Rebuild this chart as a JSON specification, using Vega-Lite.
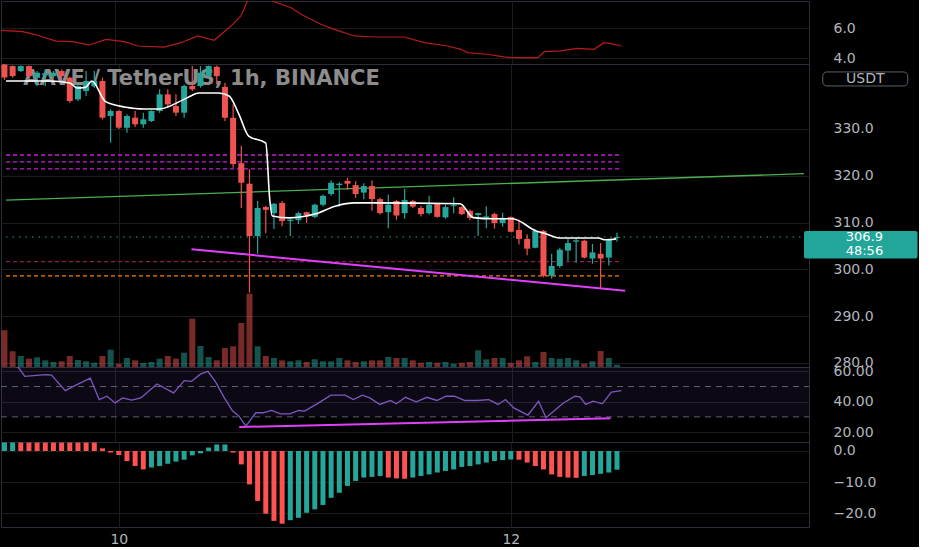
{
  "$schema": "https://vega.github.io/schema/vega-lite/v6.json",
  "background": "#000000",
  "padding": 0,
  "spacing": 0,
  "bounds": "flush",
  "config": {
    "view": {"stroke": "#2a2e39", "strokeWidth": 1},
    "axis": {"domain": false, "ticks": false, "title": null, "gridColor": "#1c1c1c", "gridWidth": 1, "labelColor": "#b2b5be", "labelFont": "DejaVu Sans", "labelFontSize": 14, "labelOverlap": false}
  },
  "datasets": {
    "candles": [
      {"i":-1,"o":343.8,"h":344.0,"l":340.5,"c":341.0,"v":3670},
      {"i":0,"o":343.46,"h":343.6,"l":341.0,"c":341.32,"v":1570},
      {"i":1,"o":342.39,"h":343.6,"l":342.2,"c":343.46,"v":1100},
      {"i":2,"o":343.46,"h":343.6,"l":341.0,"c":341.32,"v":830},
      {"i":3,"o":340.97,"h":342.39,"l":339.19,"c":342.04,"v":970},
      {"i":4,"o":341.5,"h":342.75,"l":339.19,"c":341.9,"v":670},
      {"i":5,"o":341.32,"h":342.4,"l":340.9,"c":342.04,"v":500},
      {"i":6,"o":342.39,"h":342.75,"l":340.61,"c":341.32,"v":570},
      {"i":7,"o":340.97,"h":341.2,"l":335.63,"c":335.98,"v":1100},
      {"i":8,"o":336.34,"h":339.5,"l":336.0,"c":339.19,"v":700},
      {"i":9,"o":338.12,"h":342.39,"l":337.05,"c":340.26,"v":570},
      {"i":10,"o":339.19,"h":342.39,"l":338.83,"c":340.26,"v":430},
      {"i":11,"o":340.26,"h":340.97,"l":332.07,"c":332.42,"v":1100},
      {"i":12,"o":332.78,"h":334.2,"l":327.08,"c":333.85,"v":1730},
      {"i":13,"o":333.85,"h":334.0,"l":330.0,"c":330.28,"v":330},
      {"i":14,"o":330.28,"h":333.13,"l":329.22,"c":332.78,"v":900},
      {"i":15,"o":332.42,"h":333.85,"l":330.43,"c":331.0,"v":670},
      {"i":16,"o":331.0,"h":333.49,"l":330.28,"c":332.07,"v":400},
      {"i":17,"o":331.71,"h":334.0,"l":331.5,"c":333.85,"v":500},
      {"i":18,"o":333.85,"h":338.48,"l":333.49,"c":337.41,"v":830},
      {"i":19,"o":337.41,"h":338.48,"l":334.56,"c":335.27,"v":1100},
      {"i":20,"o":334.91,"h":337.41,"l":332.78,"c":333.49,"v":830},
      {"i":21,"o":333.49,"h":339.54,"l":332.42,"c":339.19,"v":1430},
      {"i":22,"o":339.19,"h":343.46,"l":338.12,"c":338.48,"v":4830},
      {"i":23,"o":339.19,"h":343.46,"l":338.83,"c":342.04,"v":2100},
      {"i":24,"o":341.32,"h":343.6,"l":341.0,"c":343.46,"v":1000},
      {"i":25,"o":343.3,"h":343.6,"l":339.6,"c":341.3,"v":670},
      {"i":26,"o":339.0,"h":339.9,"l":331.7,"c":332.4,"v":1900},
      {"i":27,"o":332.4,"h":335.3,"l":321.7,"c":322.5,"v":2070},
      {"i":28,"o":322.7,"h":326.4,"l":313.1,"c":318.5,"v":4400},
      {"i":29,"o":318.3,"h":321.4,"l":295.0,"c":307.1,"v":7330},
      {"i":30,"o":307.1,"h":314.6,"l":303.3,"c":313.1,"v":2070},
      {"i":31,"o":313.3,"h":313.6,"l":307.7,"c":312.7,"v":1100},
      {"i":32,"o":312.0,"h":314.2,"l":308.6,"c":314.0,"v":900},
      {"i":33,"o":314.2,"h":314.6,"l":309.2,"c":310.3,"v":670},
      {"i":34,"o":310.3,"h":310.8,"l":307.1,"c":310.6,"v":570},
      {"i":35,"o":310.5,"h":312.3,"l":309.7,"c":312.0,"v":670},
      {"i":36,"o":312.2,"h":312.3,"l":309.9,"c":311.6,"v":500},
      {"i":37,"o":311.2,"h":314.0,"l":310.9,"c":313.8,"v":770},
      {"i":38,"o":313.8,"h":316.0,"l":313.5,"c":315.7,"v":570},
      {"i":39,"o":316.1,"h":319.0,"l":315.7,"c":318.5,"v":570},
      {"i":40,"o":318.0,"h":318.6,"l":313.4,"c":318.3,"v":900},
      {"i":41,"o":318.9,"h":319.5,"l":317.0,"c":318.3,"v":670},
      {"i":42,"o":318.0,"h":318.8,"l":315.3,"c":316.1,"v":500},
      {"i":43,"o":316.4,"h":318.4,"l":315.0,"c":317.8,"v":570},
      {"i":44,"o":317.8,"h":319.0,"l":312.5,"c":315.0,"v":670},
      {"i":45,"o":315.0,"h":315.3,"l":311.7,"c":312.0,"v":670},
      {"i":46,"o":312.2,"h":316.0,"l":308.8,"c":313.8,"v":1000},
      {"i":47,"o":314.6,"h":314.8,"l":310.6,"c":311.5,"v":900},
      {"i":48,"o":312.0,"h":317.2,"l":310.8,"c":314.8,"v":900},
      {"i":49,"o":314.6,"h":314.8,"l":313.1,"c":313.4,"v":670},
      {"i":50,"o":313.1,"h":313.6,"l":311.3,"c":311.8,"v":430},
      {"i":51,"o":312.0,"h":315.7,"l":311.7,"c":313.8,"v":500},
      {"i":52,"o":314.0,"h":314.2,"l":311.0,"c":311.2,"v":430},
      {"i":53,"o":311.1,"h":313.8,"l":310.8,"c":313.3,"v":500},
      {"i":54,"o":313.5,"h":315.4,"l":312.0,"c":313.7,"v":330},
      {"i":55,"o":313.3,"h":313.5,"l":311.6,"c":311.8,"v":430},
      {"i":56,"o":312.5,"h":312.8,"l":310.5,"c":311.0,"v":500},
      {"i":57,"o":311.6,"h":312.1,"l":307.1,"c":312.0,"v":1670},
      {"i":58,"o":311.0,"h":313.5,"l":308.8,"c":311.3,"v":770},
      {"i":59,"o":311.8,"h":312.1,"l":308.7,"c":309.9,"v":900},
      {"i":60,"o":309.9,"h":312.1,"l":309.1,"c":311.0,"v":900},
      {"i":61,"o":311.2,"h":311.3,"l":307.9,"c":308.0,"v":430},
      {"i":62,"o":308.4,"h":310.4,"l":305.3,"c":306.5,"v":670},
      {"i":63,"o":306.5,"h":307.5,"l":303.0,"c":304.4,"v":1070},
      {"i":64,"o":304.6,"h":308.5,"l":304.5,"c":308.2,"v":500},
      {"i":65,"o":308.2,"h":308.4,"l":298.3,"c":298.6,"v":1500},
      {"i":66,"o":298.6,"h":303.3,"l":298.0,"c":300.7,"v":900},
      {"i":67,"o":300.7,"h":304.6,"l":300.3,"c":304.2,"v":830},
      {"i":68,"o":304.0,"h":306.5,"l":301.8,"c":305.6,"v":900},
      {"i":69,"o":305.9,"h":306.8,"l":301.4,"c":306.2,"v":670},
      {"i":70,"o":306.1,"h":306.3,"l":302.3,"c":302.5,"v":330},
      {"i":71,"o":302.3,"h":305.4,"l":301.2,"c":303.6,"v":570},
      {"i":72,"o":303.3,"h":305.6,"l":295.8,"c":302.3,"v":1600},
      {"i":73,"o":302.5,"h":306.3,"l":300.8,"c":306.2,"v":900},
      {"i":74,"o":306.7,"h":307.8,"l":305.9,"c":306.9,"v":230}
    ],
    "ma": [
      {"i":-0.8,"p":340.26},{"i":1.6,"p":340.26},{"i":4.5,"p":340.26},{"i":7.0,"p":339.83},{"i":7.9,"p":338.76},{"i":8.9,"p":338.9},{"i":9.7,"p":340.26},{"i":11.3,"p":335.98},{"i":12.1,"p":335.34},{"i":13.7,"p":334.7},{"i":16.1,"p":334.27},{"i":17.9,"p":334.27},{"i":21.3,"p":336.6},{"i":22.8,"p":337.7},{"i":25.2,"p":337.7},{"i":26.5,"p":337.05},{"i":27.7,"p":333.2},{"i":28.9,"p":328.5},{"i":31.0,"p":327.0},{"i":31.5,"p":314.6},{"i":31.8,"p":311.4},{"i":33.9,"p":311.0},{"i":37.0,"p":311.8},{"i":39.5,"p":313.5},{"i":41.9,"p":314.2},{"i":43.9,"p":314.2},{"i":54.8,"p":314.0},{"i":56.4,"p":311.05},{"i":58.8,"p":310.8},{"i":61.2,"p":310.8},{"i":64.1,"p":308.2},{"i":65.3,"p":307.6},{"i":66.9,"p":306.7},{"i":71.7,"p":306.7},{"i":72.6,"p":306.3},{"i":73.9,"p":306.5}
    ],
    "trendGreen": [{"i":-0.81,"p":314.77},{"i":96.9,"p":320.45}],
    "trendPink": [{"i":21.9,"p":304.3},{"i":75.0,"p":295.4}],
    "zones": [{"p":324.44},{"p":322.95},{"p":321.45}],
    "atr": [
      {"i":-0.81,"v":5.84},{"i":1.81,"v":5.76},{"i":3.22,"v":5.58},{"i":5.84,"v":5.13},{"i":7.86,"v":5.09},{"i":9.87,"v":4.87},{"i":11.89,"v":5.24},{"i":14.1,"v":5.09},{"i":15.72,"v":4.8},{"i":18.94,"v":4.73},{"i":20.96,"v":5.02},{"i":22.97,"v":5.47},{"i":24.98,"v":5.18},{"i":27.0,"v":6.13},{"i":28.2,"v":6.8},{"i":29.0,"v":7.8},{"i":30.4,"v":8.6},{"i":32.0,"v":7.8},{"i":34.26,"v":7.35},{"i":35.46,"v":6.91},{"i":37.88,"v":6.25},{"i":39.5,"v":5.91},{"i":41.9,"v":5.47},{"i":44.3,"v":5.4},{"i":47.96,"v":5.4},{"i":50.4,"v":5.02},{"i":53.2,"v":4.8},{"i":54.8,"v":4.58},{"i":55.6,"v":4.36},{"i":58.0,"v":4.25},{"i":60.0,"v":4.07},{"i":61.3,"v":4.02},{"i":64.1,"v":4.02},{"i":64.9,"v":4.42},{"i":66.9,"v":4.47},{"i":68.9,"v":4.64},{"i":70.9,"v":4.58},{"i":72.1,"v":5.02},{"i":73.0,"v":4.96},{"i":74.2,"v":4.8}
    ],
    "rsi": [
      {"i":0.3,"r":66},{"i":1.35,"r":62.2},{"i":2.07,"r":56.7},{"i":4.58,"r":57.8},{"i":5.3,"r":57.5},{"i":6.96,"r":47.3},{"i":8.19,"r":50.8},{"i":9.99,"r":55.6},{"i":11.06,"r":41.4},{"i":12.0,"r":43.6},{"i":13.0,"r":39.2},{"i":13.9,"r":42.5},{"i":15.0,"r":41.0},{"i":16.1,"r":42.5},{"i":18.05,"r":51.7},{"i":20.06,"r":45.8},{"i":21.35,"r":53.9},{"i":22.2,"r":53.4},{"i":23.3,"r":58.2},{"i":24.2,"r":60.0},{"i":25.1,"r":53.4},{"i":26.2,"r":42.5},{"i":27.2,"r":33.8},{"i":27.97,"r":30.5},{"i":28.8,"r":23.9},{"i":30.0,"r":32.7},{"i":30.9,"r":32.7},{"i":31.9,"r":34.2},{"i":33.0,"r":32.0},{"i":34.1,"r":32.0},{"i":35.2,"r":34.2},{"i":35.9,"r":33.8},{"i":37.3,"r":38.2},{"i":39.1,"r":44.3},{"i":40.8,"r":44.3},{"i":41.8,"r":41.4},{"i":42.9,"r":44.3},{"i":43.8,"r":42.5},{"i":45.0,"r":38.2},{"i":46.3,"r":40.8},{"i":47.0,"r":38.6},{"i":48.1,"r":42.9},{"i":49.4,"r":39.9},{"i":50.7,"r":42.9},{"i":51.9,"r":40.8},{"i":53.0,"r":43.6},{"i":54.0,"r":43.6},{"i":55.3,"r":40.8},{"i":56.8,"r":40.8},{"i":58.2,"r":41.4},{"i":59.3,"r":38.2},{"i":60.2,"r":41.4},{"i":61.2,"r":35.9},{"i":62.9,"r":31.1},{"i":64.2,"r":40.3},{"i":65.1,"r":29.4},{"i":67.2,"r":39.2},{"i":68.6,"r":43.6},{"i":69.2,"r":43.2},{"i":69.9,"r":38.2},{"i":70.8,"r":40.3},{"i":71.9,"r":38.6},{"i":73.0,"r":46.4},{"i":74.2,"r":47.3}
    ],
    "rsiTrend": [{"i":28.0,"r":23.3},{"i":72.9,"r":29.0}],
    "rsiBands": [{"r":50},{"r":30}],
    "macd": [
      {"i":-1,"m":2.7,"t":"up"},{"i":0,"m":2.7,"t":"up"},{"i":1,"m":2.7,"t":"down"},{"i":2,"m":2.7,"t":"down"},{"i":3,"m":2.7,"t":"down"},{"i":4,"m":2.7,"t":"down"},{"i":5,"m":2.7,"t":"down"},{"i":6,"m":2.7,"t":"down"},{"i":7,"m":2.7,"t":"down"},{"i":8,"m":2.7,"t":"down"},{"i":9,"m":2.7,"t":"down"},{"i":10,"m":2.7,"t":"down"},{"i":11,"m":0.85,"t":"down"},{"i":12,"m":-0.5,"t":"down"},{"i":13,"m":-1.3,"t":"down"},{"i":14,"m":-3.2,"t":"down"},{"i":15,"m":-4.8,"t":"down"},{"i":16,"m":-5.9,"t":"down"},{"i":17,"m":-5.3,"t":"up"},{"i":18,"m":-4.8,"t":"up"},{"i":19,"m":-4.1,"t":"up"},{"i":20,"m":-3.4,"t":"up"},{"i":21,"m":-2.8,"t":"up"},{"i":22,"m":-1.4,"t":"up"},{"i":23,"m":-0.75,"t":"up"},{"i":24,"m":1.1,"t":"up"},{"i":25,"m":2.1,"t":"up"},{"i":26,"m":2.1,"t":"up"},{"i":27,"m":-0.5,"t":"down"},{"i":28,"m":-4.3,"t":"down"},{"i":29,"m":-10.7,"t":"down"},{"i":30,"m":-16.0,"t":"down"},{"i":31,"m":-20.1,"t":"down"},{"i":32,"m":-22.4,"t":"down"},{"i":33,"m":-23.3,"t":"down"},{"i":34,"m":-22.2,"t":"up"},{"i":35,"m":-21.4,"t":"up"},{"i":36,"m":-19.8,"t":"up"},{"i":37,"m":-18.7,"t":"up"},{"i":38,"m":-17.3,"t":"up"},{"i":39,"m":-15.0,"t":"up"},{"i":40,"m":-13.4,"t":"up"},{"i":41,"m":-11.2,"t":"up"},{"i":42,"m":-9.6,"t":"up"},{"i":43,"m":-8.5,"t":"up"},{"i":44,"m":-8.3,"t":"up"},{"i":45,"m":-8.0,"t":"up"},{"i":46,"m":-8.5,"t":"down"},{"i":47,"m":-8.8,"t":"down"},{"i":48,"m":-8.9,"t":"down"},{"i":49,"m":-8.5,"t":"up"},{"i":50,"m":-8.0,"t":"up"},{"i":51,"m":-7.5,"t":"up"},{"i":52,"m":-6.9,"t":"up"},{"i":53,"m":-6.4,"t":"up"},{"i":54,"m":-5.9,"t":"up"},{"i":55,"m":-5.1,"t":"up"},{"i":56,"m":-4.8,"t":"up"},{"i":57,"m":-4.3,"t":"up"},{"i":58,"m":-3.7,"t":"up"},{"i":59,"m":-3.2,"t":"up"},{"i":60,"m":-2.9,"t":"up"},{"i":61,"m":-2.7,"t":"up"},{"i":62,"m":-2.8,"t":"down"},{"i":63,"m":-3.7,"t":"down"},{"i":64,"m":-4.8,"t":"down"},{"i":65,"m":-5.9,"t":"down"},{"i":66,"m":-7.5,"t":"down"},{"i":67,"m":-8.3,"t":"down"},{"i":68,"m":-8.5,"t":"down"},{"i":69,"m":-8.6,"t":"down"},{"i":70,"m":-8.0,"t":"up"},{"i":71,"m":-7.7,"t":"up"},{"i":72,"m":-7.3,"t":"up"},{"i":73,"m":-6.9,"t":"up"},{"i":74,"m":-6.0,"t":"up"}
    ],
    "legend": [{"t":"AAVE / TetherUS, 1h, BINANCE"}],
    "lastPrice": [{"p":306.9,"label":"306.9","timer":"48:56"}],
    "currency": [{"t":"USDT"}]
  },
  "vconcat": [
    {
      "width": 808,
      "height": 63,
      "data": {"name": "atr"},
      "mark": {"type": "line", "color": "#b71c1c", "strokeWidth": 1.2, "clip": true},
      "encoding": {
        "x": {"field": "i", "type": "quantitative", "scale": {"domain": [-0.81, 96.9], "nice": false, "zero": false}, "axis": {"values": [13, 61], "labels": false, "grid": true}},
        "y": {"field": "v", "type": "quantitative", "scale": {"domain": [3.6, 7.8], "nice": false, "zero": false}, "axis": {"orient": "right", "values": [4, 6], "format": ".1f", "labelPadding": 24, "grid": true}}
      }
    },
    {
      "width": 808,
      "height": 303,
      "layer": [
        {
          "data": {"name": "candles"},
          "mark": {"type": "bar", "width": 6, "clip": true, "opacity": 0.5},
          "encoding": {
            "x": {"field": "i", "type": "quantitative", "scale": {"domain": [-0.81, 96.9], "nice": false, "zero": false}, "axis": {"values": [13, 61], "labels": false, "grid": true}},
            "y": {"field": "v", "type": "quantitative", "scale": {"domain": [0, 30300], "nice": false}, "axis": null},
            "color": {"condition": {"test": "datum.c >= datum.o", "value": "#26a69a"}, "value": "#ef5350"}
          }
        },
        {
          "layer": [
            {
              "data": {"name": "zones"},
              "mark": {"type": "rule", "color": "#c41fd6", "strokeWidth": 1.3, "strokeDash": [4, 3]},
              "encoding": {
                "y": {"field": "p", "type": "quantitative", "scale": {"domain": [279.1, 343.9], "nice": false, "zero": false}, "axis": {"orient": "right", "values": [280, 290, 300, 310, 320, 330], "format": ".1f", "labelPadding": 24, "grid": true}},
                "x": {"datum": -0.81},
                "x2": {"datum": 74.5}
              }
            },
            {
              "data": {"name": "lastPrice"},
              "mark": {"type": "rule", "color": "#8e1d4f", "strokeWidth": 1.3, "strokeDash": [4, 3]},
              "encoding": {"y": {"datum": 301.65}, "x": {"datum": -0.81}, "x2": {"datum": 74.5}}
            },
            {
              "data": {"name": "lastPrice"},
              "mark": {"type": "rule", "color": "#f57c00", "strokeWidth": 1.3, "strokeDash": [4, 3]},
              "encoding": {"y": {"datum": 298.6}, "x": {"datum": -0.81}, "x2": {"datum": 74.5}}
            },
            {
              "data": {"name": "lastPrice"},
              "mark": {"type": "rule", "color": "#26a69a", "strokeWidth": 1, "strokeDash": [1.5, 5]},
              "encoding": {"y": {"field": "p", "type": "quantitative"}, "x": {"datum": -0.81}, "x2": {"datum": 96.9}}
            },
            {
              "data": {"name": "legend"},
              "mark": {"type": "text", "align": "left", "baseline": "middle", "font": "DejaVu Sans", "fontSize": 21, "fontWeight": "bold", "color": "#8c8c8c"},
              "encoding": {"text": {"field": "t"}, "x": {"datum": 1.3}, "y": {"datum": 340.6}}
            },
            {
              "data": {"name": "trendGreen"},
              "mark": {"type": "line", "color": "#4caf50", "strokeWidth": 1.3, "clip": true},
              "encoding": {"x": {"field": "i", "type": "quantitative"}, "y": {"field": "p", "type": "quantitative"}}
            },
            {
              "data": {"name": "candles"},
              "mark": {"type": "rule", "strokeWidth": 1.2, "clip": true},
              "encoding": {
                "x": {"field": "i", "type": "quantitative"},
                "y": {"field": "l", "type": "quantitative"},
                "y2": {"field": "h"},
                "color": {"condition": {"test": "datum.c >= datum.o", "value": "#26a69a"}, "value": "#ef5350"}
              }
            },
            {
              "data": {"name": "candles"},
              "mark": {"type": "bar", "width": 6, "clip": true},
              "encoding": {
                "x": {"field": "i", "type": "quantitative"},
                "y": {"field": "o", "type": "quantitative"},
                "y2": {"field": "c"},
                "color": {"condition": {"test": "datum.c >= datum.o", "value": "#26a69a"}, "value": "#ef5350"}
              }
            },
            {
              "data": {"name": "ma"},
              "mark": {"type": "line", "color": "#ffffff", "strokeWidth": 1.6, "interpolate": "monotone", "clip": true},
              "encoding": {"x": {"field": "i", "type": "quantitative"}, "y": {"field": "p", "type": "quantitative"}}
            },
            {
              "data": {"name": "trendPink"},
              "mark": {"type": "line", "color": "#e040fb", "strokeWidth": 2, "clip": true},
              "encoding": {"x": {"field": "i", "type": "quantitative"}, "y": {"field": "p", "type": "quantitative"}}
            },
            {
              "data": {"name": "lastPrice"},
              "mark": {"type": "rect", "color": "#22a699", "cornerRadius": 2, "clip": false},
              "encoding": {"x": {"datum": 96.9}, "x2": {"datum": 110.8}, "y": {"datum": 308.2}, "y2": {"datum": 302.3}}
            },
            {
              "data": {"name": "lastPrice"},
              "mark": {"type": "text", "color": "#ffffff", "font": "DejaVu Sans", "fontSize": 13, "baseline": "middle", "align": "center", "clip": false},
              "encoding": {"text": {"field": "label"}, "x": {"datum": 104.3}, "y": {"datum": 306.9}}
            },
            {
              "data": {"name": "lastPrice"},
              "mark": {"type": "text", "color": "#ffffff", "font": "DejaVu Sans", "fontSize": 13, "baseline": "middle", "align": "center", "clip": false},
              "encoding": {"text": {"field": "timer"}, "x": {"datum": 104.3}, "y": {"datum": 303.9}}
            },
            {
              "data": {"name": "currency"},
              "mark": {"type": "rect", "fillOpacity": 0, "stroke": "#5d606b", "strokeWidth": 1, "cornerRadius": 4, "clip": false},
              "encoding": {"x": {"datum": 99.2}, "x2": {"datum": 109.6}, "y": {"datum": 342.2}, "y2": {"datum": 339.2}}
            },
            {
              "data": {"name": "currency"},
              "mark": {"type": "text", "color": "#b2b5be", "font": "DejaVu Sans", "fontSize": 14, "baseline": "middle", "align": "center", "clip": false},
              "encoding": {"text": {"field": "t"}, "x": {"datum": 104.4}, "y": {"datum": 340.7}}
            }
          ]
        }
      ],
      "resolve": {"scale": {"y": "independent"}}
    },
    {
      "width": 808,
      "height": 75,
      "layer": [
        {
          "data": {"name": "rsi"},
          "mark": {"type": "line", "color": "#7e57c2", "strokeWidth": 1.3, "clip": true, "opacity": 0},
          "encoding": {
            "x": {"field": "i", "type": "quantitative", "scale": {"domain": [-0.81, 96.9], "nice": false, "zero": false}, "axis": {"values": [13, 61], "labels": false, "grid": true}},
            "y": {"field": "r", "type": "quantitative", "scale": {"domain": [13.4, 62.9], "nice": false, "zero": false}, "axis": {"orient": "right", "tickCount": 3, "format": ".2f", "labelPadding": 24, "grid": true, "labelOverlap": false}}
          }
        },
        {
          "data": {"name": "currency"},
          "mark": {"type": "rect", "color": "#7e57c2", "opacity": 0.1, "clip": true},
          "encoding": {
            "x": {"datum": -0.81},
            "x2": {"datum": 96.9},
            "y": {"datum": 30},
            "y2": {"datum": 70}
          }
        },
        {
          "data": {"name": "rsiBands"},
          "mark": {"type": "rule", "color": "#5d606b", "strokeWidth": 1, "strokeDash": [6, 5]},
          "encoding": {"y": {"field": "r", "type": "quantitative"}, "x": {"datum": -0.81}, "x2": {"datum": 96.9}}
        },
        {
          "data": {"name": "rsiTrend"},
          "mark": {"type": "line", "color": "#e040fb", "strokeWidth": 2, "clip": true},
          "encoding": {"x": {"field": "i", "type": "quantitative"}, "y": {"field": "r", "type": "quantitative"}}
        },
        {
          "data": {"name": "rsi"},
          "mark": {"type": "line", "color": "#7e57c2", "strokeWidth": 1.3, "clip": true},
          "encoding": {"x": {"field": "i", "type": "quantitative"}, "y": {"field": "r", "type": "quantitative"}}
        }
      ]
    },
    {
      "width": 808,
      "height": 85,
      "data": {"name": "macd"},
      "mark": {"type": "bar", "width": 5, "clip": true},
      "encoding": {
        "x": {"field": "i", "type": "quantitative", "scale": {"domain": [-0.81, 96.9], "nice": false, "zero": false}, "axis": {"values": [13, 61], "labels": true, "grid": true, "labelExpr": "datum.value == 13 ? '10' : '12'", "labelPadding": 5}},
        "y": {"field": "m", "type": "quantitative", "scale": {"domain": [-24.36, 2.88], "nice": false, "zero": false}, "axis": {"orient": "right", "values": [0, -10, -20], "format": ".1f", "labelPadding": 24, "grid": true}},
        "y2": {"datum": 0},
        "color": {"field": "t", "type": "nominal", "scale": {"domain": ["up", "down"], "range": ["#26a69a", "#ff5252"]}, "legend": null}
      }
    }
  ]
}
